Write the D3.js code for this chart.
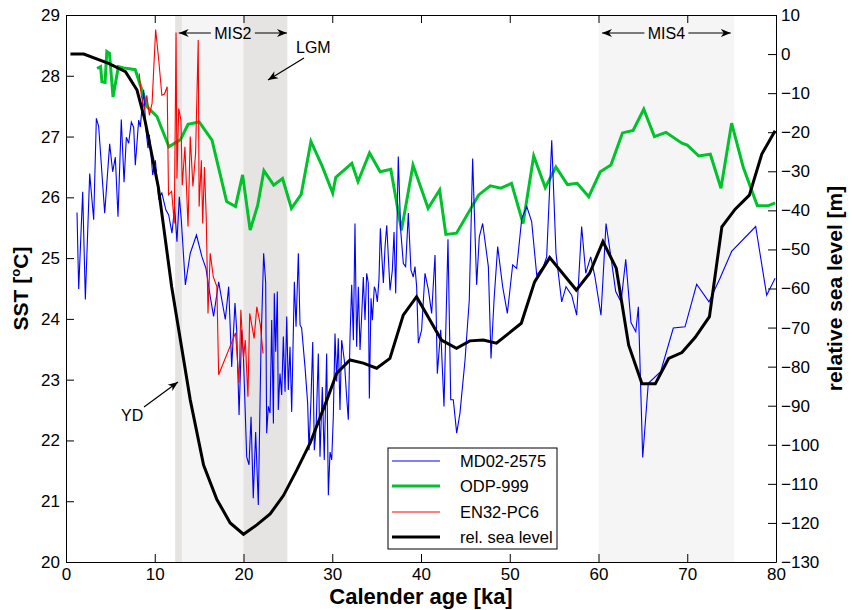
<!DOCTYPE html>
<html><head><meta charset="utf-8">
<script src="https://cdn.jsdelivr.net/npm/d3@7"></script>
<style>body{margin:0;background:#fff}svg{display:block;font-family:"Liberation Sans",Arial,Helvetica,sans-serif}</style>
</head><body><div id="chart"></div>
<script>
// ---------- DATA ----------
const blueAge = [1.24,1.43,1.88,2.18,2.67,3.12,3.42,3.68,4.36,4.92,5.26,5.56,5.86,6.23,6.54,6.80,7.06,7.36,7.63,7.81,8.19,8.37,8.75,9.01,9.24,9.39,9.77,10.07,10.44,10.80,11.26,11.57,11.94,12.24,12.50,12.77,12.99,13.45,14.00,14.70,15.32,15.77,16.26,16.63,17.20,17.95,18.33,18.67,19.04,19.23,19.50,19.80,19.98,20.36,20.62,20.85,21.10,21.37,21.67,21.97,22.27,22.50,22.61,22.80,22.99,23.18,23.37,23.47,23.63,23.81,23.92,24.11,24.30,24.49,24.68,24.87,25.05,25.24,25.43,25.73,25.92,26.18,26.37,26.55,26.93,27.23,27.38,27.60,27.80,27.98,28.17,28.43,28.62,28.88,29.10,29.37,29.56,29.75,29.94,30.12,30.31,30.50,30.68,30.87,31.06,31.36,31.62,31.81,32.00,32.19,32.38,32.56,32.75,32.94,33.13,33.32,33.50,33.69,33.88,34.06,34.18,34.37,34.52,34.74,34.89,35.08,35.27,35.42,35.57,35.76,35.95,36.14,36.32,36.51,36.77,36.96,37.15,37.44,37.71,38.01,38.27,38.57,38.87,39.13,39.32,39.51,39.70,40.07,40.45,40.83,41.20,41.58,41.84,42.22,42.59,43.04,43.35,43.64,44.02,44.39,44.96,45.44,45.82,46.27,46.57,46.95,47.59,47.89,48.23,48.64,49.20,49.73,50.33,50.78,51.35,51.91,52.47,53.04,53.78,54.16,54.73,55.21,55.85,56.34,56.98,57.54,58.10,58.56,59.12,59.60,60.28,60.85,61.40,61.94,62.54,63.07,63.66,64.20,64.49,64.98,65.61,67.00,68.43,69.75,71.06,72.45,73.69,75.00,77.71,78.95,79.90];
const blueSST = [25.75,24.49,26.09,24.32,26.39,25.63,27.30,27.17,25.74,26.88,26.42,26.66,25.68,27.28,26.25,26.99,26.89,27.24,27.15,26.53,27.27,27.16,27.77,27.11,26.81,27.03,26.37,26.61,25.98,26.07,25.79,25.71,25.41,25.85,25.27,26.01,25.63,24.56,25.08,25.38,25.02,24.83,24.36,24.04,24.61,23.99,24.53,23.21,24.26,23.82,22.42,23.82,23.43,21.73,21.60,22.39,21.05,22.14,20.94,23.54,25.08,24.59,22.12,22.56,22.45,23.98,22.28,24.42,23.46,24.45,22.50,23.10,22.75,23.71,22.80,24.04,22.83,23.54,22.47,24.61,23.87,25.08,23.90,23.85,23.21,22.61,21.84,22.66,23.62,21.84,22.17,23.43,21.73,22.88,21.68,23.43,21.10,21.81,21.68,22.39,23.76,22.97,23.68,22.50,23.65,23.32,22.72,22.34,23.68,24.56,23.65,25.57,23.54,24.53,23.49,24.06,24.69,23.98,24.75,24.59,22.69,24.34,23.98,24.53,24.47,24.28,24.67,25.49,25.08,24.59,25.19,25.54,25.02,24.47,24.80,25.43,24.42,26.67,25.46,24.91,24.86,25.74,24.80,24.69,24.86,24.53,23.60,23.82,24.75,24.48,24.09,25.05,23.10,23.82,22.56,25.31,22.67,22.67,22.12,22.45,23.32,24.31,26.64,24.56,25.35,25.57,24.86,23.35,24.31,25.19,24.53,24.09,24.89,24.83,25.65,25.85,25.60,24.72,24.86,25.02,26.94,25.08,24.28,24.53,24.39,24.06,25.52,24.75,25.02,24.69,24.06,25.57,25.02,24.45,24.28,24.98,23.94,23.79,24.20,21.72,22.94,23.13,23.85,23.87,24.57,24.28,24.67,25.11,25.52,24.39,24.67];

const greenAge = [3.5,3.9,4.05,4.4,4.6,4.9,5.3,5.9,6.5,7.8,9.2,10.25,11.6,12.9,13.75,15.0,16.45,18.1,19.1,19.9,20.75,21.6,22.3,23.4,24.4,25.4,26.5,27.6,28.9,30.05,30.4,32.2,32.9,34.2,35.4,36.6,37.8,39.1,40.8,42.1,42.8,44.0,46.5,47.8,49.0,50.2,51.5,52.7,54.0,55.2,56.5,57.6,58.9,60.2,61.4,62.7,63.9,65.1,66.3,67.6,69.4,70.0,71.3,72.6,73.8,75.0,76.3,77.9,79.1,79.9];
const greenSST = [28.12,28.15,27.90,27.89,28.40,28.37,27.65,28.15,28.13,28.10,27.48,27.33,26.83,26.95,27.20,27.24,26.94,25.93,25.85,26.37,25.46,25.87,26.44,26.20,26.31,25.82,26.05,26.92,26.50,26.07,26.33,26.56,26.26,26.73,26.42,26.46,25.46,26.53,25.82,26.12,25.39,25.41,26.04,26.19,26.15,26.23,25.57,26.68,26.16,26.50,26.21,26.23,26.01,26.42,26.53,27.06,27.10,27.45,27.00,27.07,26.89,26.86,26.68,26.71,26.15,27.22,26.50,25.86,25.86,25.91];

const redAge = [8.25,8.5,8.85,9.1,9.4,9.7,10.1,10.45,10.8,11.1,11.4,11.55,11.9,12.2,12.4,12.5,12.7,12.95,13.1,13.4,13.75,14.0,14.3,14.6,14.9,15.0,15.25,15.4,15.6,15.8,16.0,16.25,16.6,17.0,17.2,19.1,19.5,19.7,20.0,20.2,20.5,20.7,21.2,21.5,21.9,22.2];
const redSST = [28.04,27.66,27.44,27.68,27.35,27.55,28.76,28.26,27.68,27.70,27.82,26.04,26.10,25.57,28.71,26.31,27.46,27.27,26.20,26.83,25.52,27.00,26.18,26.72,28.59,25.85,26.61,25.57,26.50,25.68,24.09,25.08,24.69,24.53,23.08,23.77,22.95,24.15,23.35,23.65,22.72,24.09,23.68,24.20,23.90,23.43];

const slAge = [0.5,2,4.8,6.7,8,8.9,10.4,11.9,14,15.5,17,18.5,20,21.5,23,24.5,26,27.5,29.4,30.5,32,33.5,35,36.5,38,39.5,42.3,44,45.5,47,48.5,51.3,52.8,54.5,57.5,59,60.5,62,63.4,64.9,66.4,67.9,69.4,70.9,72.5,73.9,75.4,77,78.4,79.9];
const slVal = [0,0,-2.4,-4.5,-9.2,-17,-34,-59.5,-88.5,-105.2,-114,-120,-122.9,-120.5,-117.7,-113,-106.5,-99.6,-88.5,-81.7,-78.3,-79.1,-80.4,-77.9,-66.8,-62.1,-73.2,-75.3,-73.4,-73.2,-74.0,-68.9,-58.3,-52.1,-60.4,-56.1,-48.0,-54.8,-74.5,-84.4,-84.4,-77.9,-76.4,-72.5,-67.2,-44.2,-39.7,-36.1,-25.6,-19.6];

const xTicks = [0,10,20,30,40,50,60,70,80];
const sstTicks = [20,21,22,23,24,25,26,27,28,29];
const slTicks = [-130,-120,-110,-100,-90,-80,-70,-60,-50,-40,-30,-20,-10,0,10];

const bandsLight = [[12.3,25.0],[60.0,75.3]];
const bandsDark = [[12.3,13.05],[20.0,24.9]];
const misArrows = [{label:"MIS2", from:12.7, to:24.9}, {label:"MIS4", from:60.4, to:74.9}];
const legendNames = ["MD02-2575","ODP-999","EN32-PC6","rel. sea level"];

// ---------- LAYOUT ----------
const W = 852, H = 610;
const L = 66, R = 776, T = 15, B = 562;
const svg = d3.select("#chart").append("svg").attr("width", W).attr("height", H);

const x = d3.scaleLinear().domain([0,80]).range([L,R]);
const yS = d3.scaleLinear().domain([20,29]).range([B,T]);
const yL = d3.scaleLinear().domain([-130,10]).range([B,T]);

const defs = svg.append("defs");
defs.append("clipPath").attr("id","clip").append("rect").attr("x",L).attr("y",T).attr("width",R-L).attr("height",B-T);
defs.append("marker").attr("id","ah").attr("viewBox","0 0 10 10").attr("refX",10).attr("refY",5)
  .attr("markerWidth",10).attr("markerHeight",10).attr("markerUnits","userSpaceOnUse").attr("orient","auto")
  .append("path").attr("d","M0,1 L10,5 L0,9 L3,5 Z").attr("fill","#000");

// bands
const gb = svg.append("g");
bandsLight.forEach(b => gb.append("rect").attr("x",x(b[0])).attr("y",T).attr("width",x(b[1])-x(b[0])).attr("height",B-T).attr("fill","#f5f5f5"));
bandsDark.forEach(b => gb.append("rect").attr("x",x(b[0])).attr("y",T).attr("width",x(b[1])-x(b[0])).attr("height",B-T).attr("fill","#e5e4e3"));

// series
const gp = svg.append("g").attr("clip-path","url(#clip)");
const lineS = (ages, vals) => d3.line().x((d,i)=>x(ages[i])).y(d=>yS(d))(vals);
const lineL = d3.line().x((d,i)=>x(slAge[i])).y(d=>yL(d));
gp.append("path").attr("d", lineS(greenAge, greenSST)).attr("fill","none").attr("stroke","#00c22a").attr("stroke-width",3).attr("stroke-linejoin","miter");
gp.append("path").attr("d", lineS(blueAge, blueSST)).attr("fill","none").attr("stroke","#0000ff").attr("stroke-width",1.1);
gp.append("path").attr("d", lineS(redAge, redSST)).attr("fill","none").attr("stroke","#ff0000").attr("stroke-width",1.1);
gp.append("path").attr("d", lineL(slVal)).attr("fill","none").attr("stroke","#000").attr("stroke-width",3);

// axes
const fs = 17;
function styleAxis(g){
  g.selectAll("path.domain").attr("stroke","#000").attr("stroke-width",1);
  g.selectAll(".tick line").attr("stroke","#000");
  g.selectAll("text").attr("font-size",fs).attr("font-family",'"Liberation Sans",Arial,sans-serif').attr("fill","#000");
}
svg.append("g").attr("transform",`translate(0,${B})`)
  .call(d3.axisBottom(x).tickValues(xTicks).tickSizeInner(-8).tickSizeOuter(0).tickPadding(6).tickFormat(d3.format("d"))).call(styleAxis);
svg.append("g").attr("transform",`translate(0,${T})`)
  .call(d3.axisTop(x).tickValues(xTicks).tickSizeInner(-8).tickSizeOuter(0).tickFormat("")).call(styleAxis);
svg.append("g").attr("transform",`translate(${L},0)`)
  .call(d3.axisLeft(yS).tickValues(sstTicks).tickSizeInner(-8).tickSizeOuter(0).tickPadding(6).tickFormat(d3.format("d"))).call(styleAxis);
svg.append("g").attr("transform",`translate(${R},0)`)
  .call(d3.axisRight(yL).tickValues(slTicks).tickSizeInner(-8).tickSizeOuter(0).tickPadding(5).tickFormat(d=>d<0?"\u2212"+Math.abs(d):String(d))).call(styleAxis);

// axis titles
svg.append("text").attr("x",(L+R)/2).attr("y",604).attr("text-anchor","middle").attr("font-size",22).attr("font-weight","bold").text("Calender age [ka]");
const st = svg.append("text").attr("transform",`translate(28,${(T+B)/2}) rotate(-90)`).attr("text-anchor","middle").attr("font-size",21).attr("font-weight","bold");
st.append("tspan").text("SST [");
st.append("tspan").attr("font-size",13).attr("dy",-8).text("o");
st.append("tspan").attr("dy",8).text("C]");
svg.append("text").attr("transform",`translate(842,${(T+B)/2}) rotate(-90)`).attr("text-anchor","middle").attr("font-size",21).attr("font-weight","bold").text("relative sea level [m]");

// MIS arrows
const ay = 33;
misArrows.forEach(m => {
  const cx = (x(m.from)+x(m.to))/2;
  svg.append("line").attr("x1",cx-22).attr("y1",ay).attr("x2",x(m.from)).attr("y2",ay).attr("stroke","#000").attr("stroke-width",1.2).attr("marker-end","url(#ah)");
  svg.append("line").attr("x1",cx+22).attr("y1",ay).attr("x2",x(m.to)).attr("y2",ay).attr("stroke","#000").attr("stroke-width",1.2).attr("marker-end","url(#ah)");
  svg.append("text").attr("x",cx).attr("y",ay+6).attr("text-anchor","middle").attr("font-size",16).text(m.label);
});
// LGM annotation
svg.append("text").attr("x",296).attr("y",53).attr("font-size",16).text("LGM");
svg.append("line").attr("x1",304).attr("y1",58).attr("x2",268).attr("y2",80).attr("stroke","#000").attr("stroke-width",1.2).attr("marker-end","url(#ah)");
// YD annotation
svg.append("text").attr("x",121).attr("y",421).attr("font-size",16).text("YD");
svg.append("line").attr("x1",144).attr("y1",407).attr("x2",178).attr("y2",382).attr("stroke","#000").attr("stroke-width",1.2).attr("marker-end","url(#ah)");

// legend
const lg = svg.append("g");
lg.append("rect").attr("x",388).attr("y",448).attr("width",169).attr("height",101).attr("fill","#fff").attr("stroke","#000").attr("stroke-width",1);
const lstyle = [{c:"#0000ff",w:1.1},{c:"#00c22a",w:3},{c:"#ff5555",w:1.5},{c:"#000",w:3}];
const ly = [461,486,512,537];
legendNames.forEach((n,i)=>{
  lg.append("line").attr("x1",392).attr("x2",440).attr("y1",ly[i]).attr("y2",ly[i]).attr("stroke",lstyle[i].c).attr("stroke-width",lstyle[i].w);
  lg.append("text").attr("x",460).attr("y",ly[i]+6).attr("font-size",16.5).text(n);
});
</script></body></html>
